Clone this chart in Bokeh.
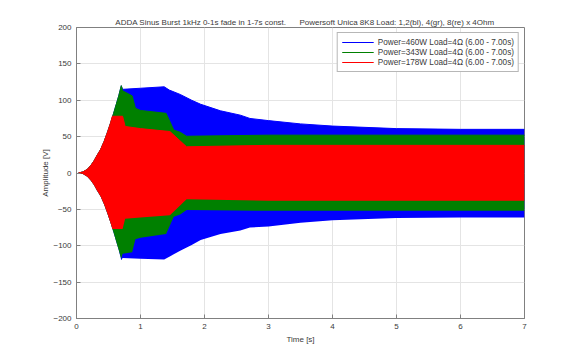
from bokeh.plotting import figure
from bokeh.models import Legend, LegendItem, FixedTicker, Range1d
from bokeh.embed import file_html
from bokeh.resources import INLINE

# ---- data (envelopes of the 1 kHz burst) ----
blue_t = [0.03, 0.10, 0.17, 0.22, 0.27, 0.32, 0.375, 0.43, 0.48, 0.53, 0.58, 0.62, 0.66, 0.70,
          0.72, 1.00, 1.37, 1.45, 1.62, 1.80, 1.94, 2.25, 2.56, 2.71, 3.0, 3.5, 4.0, 5.0, 6.0, 7.0]
blue_up = [0, 1.5, 5, 10, 16, 24, 32, 43, 55, 68, 82, 94, 106, 120,
           115, 116.5, 118.5, 114, 108, 100, 94.5, 85.5, 79.5, 75, 72, 67.5, 64.5, 61, 60, 60]
blue_lo = [0, -1.5, -5, -10, -16, -24, -32, -43, -55, -68, -82, -94, -106, -120,
           -117, -118, -119, -115, -107, -99, -92, -84, -79, -75, -73.5, -68.5, -65, -62, -61, -61]

green_t = [0.03, 0.10, 0.17, 0.22, 0.27, 0.32, 0.375, 0.43, 0.48, 0.53, 0.58, 0.62, 0.66, 0.70,
           0.72, 0.87, 0.92, 1.00, 1.40, 1.52, 1.62, 1.72, 3.0, 7.0]
green_up = [0, 1.5, 5, 10, 16, 24, 32, 43, 55, 68, 82, 94, 106, 120,
            113, 106, 89, 86, 82, 59, 56, 50.5, 52, 52]
green_lo = [0, -1.5, -5, -10, -16, -24, -32, -43, -55, -68, -82, -94, -106, -118,
            -111, -109, -91, -89, -84, -60, -57, -51, -52, -52]

red_t = [0.03, 0.10, 0.17, 0.22, 0.27, 0.32, 0.375, 0.43, 0.48, 0.53, 0.56, 0.72, 0.76, 1.00, 1.46, 1.72, 3.0, 7.0]
red_up = [0, 1.5, 5, 10, 16, 24, 32, 43, 55, 68, 78, 78, 64, 61, 57, 36, 38, 38]
red_lo = [0, -1.5, -5, -10, -16, -24, -32, -43, -55, -68, -77, -77, -63, -61, -58, -36, -38, -38]

series_names = ["Power=460W Load=4\u03a9 (6.00 - 7.00s)",
                "Power=343W Load=4\u03a9 (6.00 - 7.00s)",
                "Power=178W Load=4\u03a9 (6.00 - 7.00s)"]
x_ticks = [0, 1, 2, 3, 4, 5, 6, 7]
y_ticks = [-200, -150, -100, -50, 0, 50, 100, 150, 200]

title_text = ("\u00a0" * 4 + "ADDA Sinus Burst 1kHz 0-1s fade in 1-7s const." + "\u00a0" * 6 +
              "Powersoft Unica 8K8 Load: 1,2(bl), 4(gr), 8(re) x 4Ohm")

FONT = "Liberation Sans"
TXT = "#3a3a3a"
AX = "#808080"

p = figure(width=572, height=350, output_backend="svg", toolbar_location=None,
           x_range=Range1d(0, 7), y_range=Range1d(-200, 200),
           min_border_left=76, min_border_right=48, min_border_top=27, min_border_bottom=32,
           title=title_text)
p.title.text_font = FONT
p.title.text_font_size = "8px"
p.title.text_font_style = "normal"
p.title.text_color = TXT
p.title.align = "center"
p.title.offset = 0
p.title.standoff = 2

colors = ["#0000ff", "#008000", "#ff0000"]
data = [(blue_t, blue_up, blue_lo), (green_t, green_up, green_lo), (red_t, red_up, red_lo)]
items = []
for (t, up, lo), c, name in zip(data, colors, series_names):
    p.varea(x=t, y1=lo, y2=up, fill_color=c, fill_alpha=1.0)
    r = p.line(x=t, y=up, line_color=c, line_alpha=1.0, line_width=1)
    items.append(LegendItem(label=name, renderers=[r]))

legend = Legend(items=items, location="top_right")
legend.label_text_font = FONT
legend.label_text_font_size = "8.2px"
legend.label_text_color = TXT
legend.label_height = 10
legend.glyph_height = 10
legend.glyph_width = 32
legend.spacing = 0
legend.padding = 4
legend.margin = 5
legend.label_standoff = 4
legend.border_line_color = "#707070"
legend.border_line_width = 1
legend.background_fill_alpha = 1.0
p.add_layout(legend)

p.xgrid.grid_line_color = "#e4e4e4"
p.ygrid.grid_line_color = "#e4e4e4"
p.xaxis.ticker = FixedTicker(ticks=x_ticks)
p.yaxis.ticker = FixedTicker(ticks=y_ticks)
p.xaxis.axis_label = "Time [s]"
p.yaxis.axis_label = "Amplitude [V]"

for ax in [p.xaxis[0], p.yaxis[0]]:
    ax.axis_line_color = AX
    ax.major_tick_line_color = AX
    ax.major_tick_in = 4
    ax.major_tick_out = 0
    ax.minor_tick_line_color = None
    ax.major_label_text_font = FONT
    ax.major_label_text_font_size = "8px"
    ax.major_label_text_color = TXT
    ax.axis_label_text_font = FONT
    ax.axis_label_text_font_size = "8px"
    ax.axis_label_text_font_style = "normal"
    ax.axis_label_text_color = TXT
    ax.major_label_standoff = 5
p.xaxis[0].axis_label_standoff = 3
p.yaxis[0].axis_label_standoff = 0

p.outline_line_color = AX

open("out.html", "w").write(file_html(p, INLINE))
